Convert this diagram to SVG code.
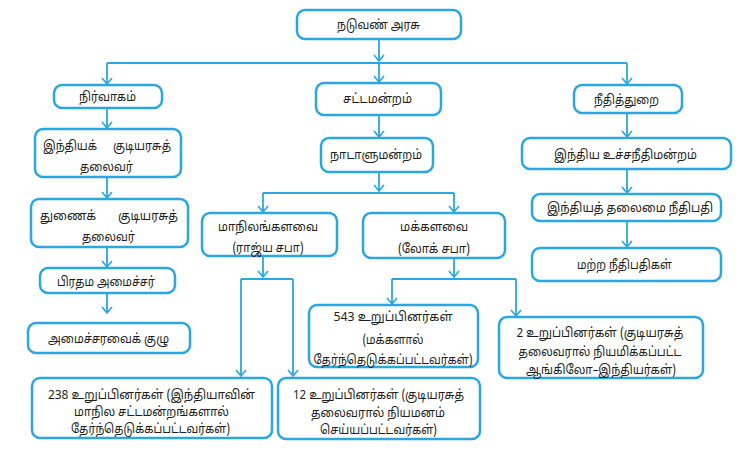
<svg xmlns="http://www.w3.org/2000/svg" width="740" height="450" viewBox="0 0 740 450">
<defs>
<marker id="ah" markerUnits="userSpaceOnUse" markerWidth="10" markerHeight="12" viewBox="0 0 10 12" refX="7" refY="6" orient="auto">
<path d="M1,1 L7,6 L1,11" fill="none" stroke="#2aa7df" stroke-width="1.6"/>
</marker>
<style>
rect{fill:#fff;stroke:#2aa7df;stroke-width:2.5}
text{font-family:"Noto Sans Tamil","Noto Sans","Lohit Tamil",sans-serif;font-size:13px;fill:#231f20;text-anchor:middle}
.s{text-anchor:start}
.e{text-anchor:end}
#connectors path{fill:none;stroke:#2aa7df;stroke-width:1.8}
.m{marker-end:url(#ah)}
</style>
</defs>
<rect width="740" height="450" style="fill:#fff;stroke:none"/>
<g id="connectors">
<path class="m" d="M379,39 V61"/>
<path d="M107,63 H627"/>
<path class="m" d="M107,63 V84"/>
<path class="m" d="M379,63 V82"/>
<path class="m" d="M627,63 V84"/>
<path class="m" d="M107,108 V128"/>
<path class="m" d="M107,177 V198"/>
<path class="m" d="M107,247 V267"/>
<path class="m" d="M107,293 V313"/>
<path class="m" d="M379,115 V137"/>
<path class="m" d="M379,172 V191"/>
<path d="M263,193 H454"/>
<path class="m" d="M263,193 V212"/>
<path class="m" d="M454,193 V212"/>
<path class="m" d="M263,256 V277"/>
<path d="M241,279 H293"/>
<path class="m" d="M241,279 V376"/>
<path class="m" d="M293,279 V376"/>
<path class="m" d="M454,258 V277"/>
<path d="M392,279 H516"/>
<path class="m" d="M392,279 V304"/>
<path class="m" d="M516,279 V316"/>
<path class="m" d="M627,113 V137"/>
<path class="m" d="M627,169 V193"/>
<path class="m" d="M627,221 V247"/>
</g>
<g id="root"><rect x="297" y="10" width="164" height="29" rx="8"/><text x="378.5" y="29" textLength="83" lengthAdjust="spacingAndGlyphs">நடுவண் அரசு</text></g>
<g id="nirvagam"><rect x="54" y="85" width="108" height="23" rx="8"/><text x="107.5" y="101" textLength="57" lengthAdjust="spacingAndGlyphs">நிர்வாகம்</text></g>
<g id="sattamanram"><rect x="316" y="83" width="125" height="32" rx="8"/><text x="377.5" y="103" textLength="69" lengthAdjust="spacingAndGlyphs">சட்டமன்றம்</text></g>
<g id="neethithurai"><rect x="574" y="85" width="108" height="28" rx="8"/><text x="626.5" y="104" textLength="65" lengthAdjust="spacingAndGlyphs">நீதித்துறை</text></g>
<g id="president"><rect x="35" y="129" width="146" height="48" rx="8"/><text class="s" x="43" y="150" textLength="54" lengthAdjust="spacingAndGlyphs">இந்தியக்</text><text class="e" x="171" y="150" textLength="58" lengthAdjust="spacingAndGlyphs">குடியரசுத்</text><text x="106.5" y="171" textLength="53" lengthAdjust="spacingAndGlyphs">தலைவர்</text></g>
<g id="vicepresident"><rect x="31" y="199" width="157" height="48" rx="8"/><text class="s" x="40" y="220" textLength="56" lengthAdjust="spacingAndGlyphs">துணைக்</text><text class="e" x="178" y="220" textLength="60" lengthAdjust="spacingAndGlyphs">குடியரசுத்</text><text x="108.5" y="241" textLength="53" lengthAdjust="spacingAndGlyphs">தலைவர்</text></g>
<g id="pm"><rect x="40" y="268" width="135" height="25" rx="8"/><text x="106" y="286" textLength="98" lengthAdjust="spacingAndGlyphs">பிரதம அமைச்சர்</text></g>
<g id="cabinet"><rect x="28" y="323" width="162" height="30" rx="8"/><text x="108.5" y="343" textLength="121" lengthAdjust="spacingAndGlyphs">அமைச்சரவைக் குழு</text></g>
<g id="parliament"><rect x="321" y="138" width="112" height="34" rx="8"/><text x="376" y="159" textLength="92" lengthAdjust="spacingAndGlyphs">நாடாளுமன்றம்</text></g>
<g id="rajyasabha"><rect x="202" y="213" width="135" height="43" rx="8"/><text x="268" y="231" textLength="100" lengthAdjust="spacingAndGlyphs">மாநிலங்களவை</text><text x="268" y="252" textLength="71" lengthAdjust="spacingAndGlyphs">(ராஜ்ய சபா)</text></g>
<g id="loksabha"><rect x="363" y="213" width="142" height="45" rx="8"/><text x="434" y="231" textLength="68" lengthAdjust="spacingAndGlyphs">மக்களவை</text><text x="434" y="253" textLength="72" lengthAdjust="spacingAndGlyphs">(லோக் சபா)</text></g>
<g id="ls543"><rect x="309" y="305" width="169" height="62" rx="8"/><text x="393" y="321" textLength="119" lengthAdjust="spacingAndGlyphs">543 உறுப்பினர்கள்</text><text x="393" y="344" textLength="61" lengthAdjust="spacingAndGlyphs">(மக்களால்</text><text x="393" y="364" textLength="159" lengthAdjust="spacingAndGlyphs">தேர்ந்தெடுக்கப்பட்டவர்கள்)</text></g>
<g id="ls2"><rect x="499" y="317" width="204" height="61" rx="8"/><text x="600" y="337" textLength="167" lengthAdjust="spacingAndGlyphs">2 உறுப்பினர்கள் (குடியரசுத்</text><text x="600" y="356" textLength="163" lengthAdjust="spacingAndGlyphs">தலைவரால் நியமிக்கப்பட்ட</text><text x="601" y="374" textLength="150" lengthAdjust="spacingAndGlyphs">ஆங்கிலோ–இந்தியர்கள்)</text></g>
<g id="rs238"><rect x="32" y="378" width="240" height="60" rx="8"/><text x="151.5" y="399" textLength="207" lengthAdjust="spacingAndGlyphs">238 உறுப்பினர்கள் (இந்தியாவின்</text><text x="151.5" y="416" textLength="155" lengthAdjust="spacingAndGlyphs">மாநில சட்டமன்றங்களால்</text><text x="150.5" y="433" textLength="159" lengthAdjust="spacingAndGlyphs">தேர்ந்தெடுக்கப்பட்டவர்கள்)</text></g>
<g id="rs12"><rect x="278" y="378" width="202" height="61" rx="8"/><text x="378.5" y="399" textLength="171" lengthAdjust="spacingAndGlyphs">12 உறுப்பினர்கள் (குடியரசுத்</text><text x="378" y="417" textLength="134" lengthAdjust="spacingAndGlyphs">தலைவரால் நியமனம்</text><text x="378.5" y="434" textLength="117" lengthAdjust="spacingAndGlyphs">செய்யப்பட்டவர்கள்)</text></g>
<g id="supremecourt"><rect x="522" y="138" width="209" height="31" rx="8"/><text x="625.5" y="159" textLength="143" lengthAdjust="spacingAndGlyphs">இந்திய உச்சநீதிமன்றம்</text></g>
<g id="cji"><rect x="532" y="194" width="189" height="27" rx="8"/><text x="630" y="212" textLength="166" lengthAdjust="spacingAndGlyphs">இந்தியத் தலைமை நீதிபதி</text></g>
<g id="judges"><rect x="532" y="248" width="189" height="33" rx="8"/><text x="624.5" y="269" textLength="95" lengthAdjust="spacingAndGlyphs">மற்ற நீதிபதிகள்</text></g>
</svg>
